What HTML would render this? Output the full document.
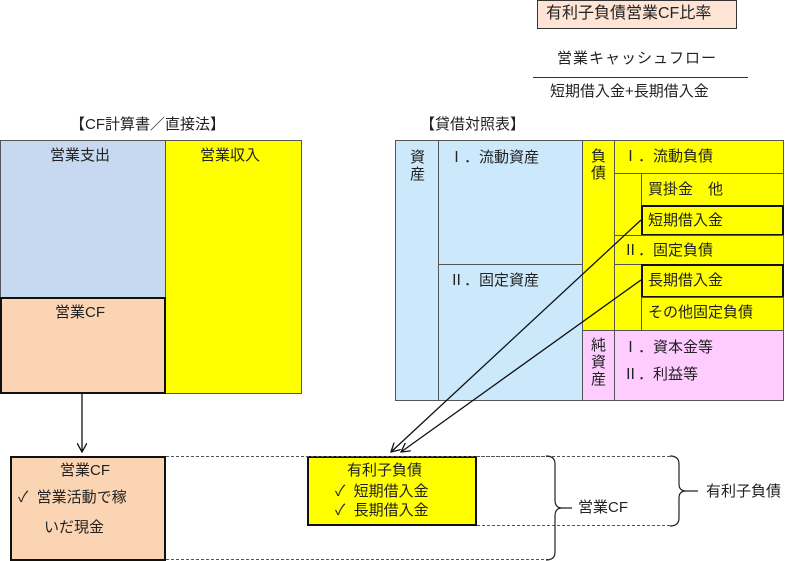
<!DOCTYPE html>
<html><head><meta charset="utf-8"><style>
body{margin:0;width:800px;height:561px;background:#fff;position:relative;overflow:hidden;font-family:"Liberation Sans","Noto Sans CJK JP",sans-serif;color:#222}
.a{position:absolute;box-sizing:border-box}
.t{position:absolute;font-size:15px;white-space:nowrap;line-height:17px}
</style></head><body>
<div class="a" style="left:537px;top:0;width:200px;height:29px;background:#fde4d4;border:1px solid #333"></div>
<div class="t" style="left:546px;top:5px;font-size:16px">有利子負債営業CF比率</div>
<div class="t" style="left:557px;top:50px;letter-spacing:1px">営業キャッシュフロー</div>
<div class="a" style="left:533px;top:77px;width:215px;height:1px;background:#333"></div>
<div class="t" style="left:550px;top:83px">短期借入金+長期借入金</div>

<div class="t" style="left:70px;top:116px">【CF計算書／直接法】</div>
<div class="a" style="left:0;top:140px;width:166px;height:158px;background:#c6d9f0;border:1px solid #555"></div>
<div class="a" style="left:165px;top:140px;width:137px;height:254px;background:#ffff00;border:1px solid #555"></div>
<div class="a" style="left:0;top:297px;width:166px;height:97px;background:#fbd4b4;border:2px solid #111"></div>
<div class="t" style="left:50px;top:147px">営業支出</div>
<div class="t" style="left:200px;top:147px">営業収入</div>
<div class="t" style="left:55px;top:304px">営業CF</div>

<div class="t" style="left:420px;top:116px">【貸借対照表】</div>
<div class="a" style="left:395px;top:140px;width:44px;height:261px;background:#cce9fb;border:1px solid #555"></div>
<div class="a" style="left:438px;top:140px;width:145px;height:125px;background:#cce9fb;border:1px solid #555"></div>
<div class="a" style="left:438px;top:264px;width:145px;height:137px;background:#cce9fb;border:1px solid #555"></div>
<div class="a" style="left:582px;top:140px;width:33px;height:191px;background:#ffff00;border:1px solid #555"></div>
<div class="a" style="left:614px;top:140px;width:170px;height:34px;background:#ffff00;border:1px solid #555"></div>
<div class="a" style="left:614px;top:173px;width:28px;height:63px;background:#ffff00;border:1px solid #555"></div>
<div class="a" style="left:641px;top:173px;width:143px;height:33px;background:#ffff00;border:1px solid #555"></div>
<div class="a" style="left:641px;top:205px;width:143px;height:31px;background:#ffff00;border:2px solid #111"></div>
<div class="a" style="left:614px;top:235px;width:170px;height:30px;background:#ffff00;border:1px solid #555"></div>
<div class="a" style="left:614px;top:264px;width:28px;height:67px;background:#ffff00;border:1px solid #555"></div>
<div class="a" style="left:641px;top:264px;width:143px;height:34px;background:#ffff00;border:2px solid #111"></div>
<div class="a" style="left:641px;top:297px;width:143px;height:34px;background:#ffff00;border:1px solid #555"></div>
<div class="a" style="left:582px;top:330px;width:33px;height:71px;background:#ffccff;border:1px solid #555"></div>
<div class="a" style="left:614px;top:330px;width:170px;height:71px;background:#ffccff;border:1px solid #555"></div>
<div class="t" style="left:410px;top:149px;width:16px;white-space:normal">資産</div>
<div class="t" style="left:449px;top:149px">Ⅰ．流動資産</div>
<div class="t" style="left:449px;top:272px">Ⅱ．固定資産</div>
<div class="t" style="left:591px;top:148px;width:16px;white-space:normal">負債</div>
<div class="t" style="left:623px;top:148px">Ⅰ．流動負債</div>
<div class="t" style="left:648px;top:181px">買掛金　他</div>
<div class="t" style="left:648px;top:212px">短期借入金</div>
<div class="t" style="left:623px;top:242px">Ⅱ．固定負債</div>
<div class="t" style="left:648px;top:272px">長期借入金</div>
<div class="t" style="left:648px;top:304px">その他固定負債</div>
<div class="t" style="left:591px;top:337px;width:16px;white-space:normal">純資産</div>
<div class="t" style="left:623px;top:339px">Ⅰ．資本金等</div>
<div class="t" style="left:623px;top:366px">Ⅱ．利益等</div>

<div class="a" style="left:10px;top:456px;width:156px;height:105px;background:#fbd4b4;border:2px solid #111"></div>
<div class="t" style="left:60px;top:462px">営業CF</div>
<div class="t" style="left:18px;top:489px">✓&nbsp;&nbsp;営業活動で稼</div>
<div class="t" style="left:44px;top:519px">いだ現金</div>
<div class="a" style="left:307px;top:456px;width:170px;height:70px;background:#ffff00;border:2px solid #111"></div>
<div class="t" style="left:347px;top:462px">有利子負債</div>
<div class="t" style="left:335px;top:483px">✓&nbsp;&nbsp;短期借入金</div>
<div class="t" style="left:335px;top:502px">✓&nbsp;&nbsp;長期借入金</div>
<div class="t" style="left:578px;top:499px">営業CF</div>
<div class="t" style="left:706px;top:483px">有利子負債</div>

<svg class="a" style="left:0;top:0" width="800" height="561">
<defs><marker id="m" markerWidth="10" markerHeight="10" refX="9" refY="5" orient="auto" markerUnits="userSpaceOnUse"><path d="M0,0 L9,5 L0,10" fill="none" stroke="#111" stroke-width="1.3"/></marker></defs>
<g stroke="#111" stroke-width="1.3" fill="none">
<line x1="82" y1="394" x2="82" y2="452" marker-end="url(#m)"/>
<line x1="641" y1="220" x2="391" y2="452" marker-end="url(#m)"/>
<line x1="641" y1="280" x2="401" y2="452" marker-end="url(#m)"/>
</g>
<g stroke="#555" stroke-width="1" stroke-dasharray="3,2" fill="none">
<line x1="166" y1="456.5" x2="548" y2="456.5"/>
<line x1="166" y1="559.5" x2="548" y2="559.5"/>
<line x1="477" y1="456.5" x2="672" y2="456.5"/>
<line x1="477" y1="525.5" x2="672" y2="525.5"/>
</g>
<g stroke="#222" stroke-width="1.2" fill="none">
<path d="M546,456 Q555,456 555,464 L555,500 Q555,508 562,508 L572,508 M562,508 Q555,508 555,516 L555,552 Q555,560 546,560"/>
<path d="M670,456 Q679,456 679,464 L679,484 Q679,491 686,491 L698,491 M686,491 Q679,491 679,498 L679,518 Q679,526 670,526"/>
</g>
</svg>
</body></html>
